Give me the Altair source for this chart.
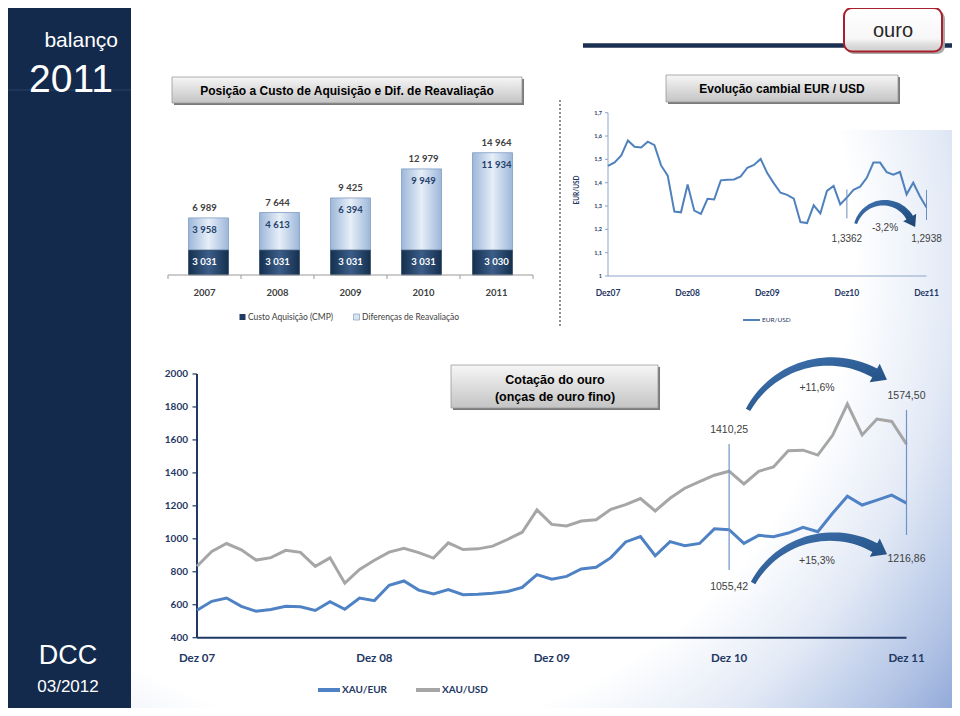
import math
import altair as alt
import pandas as pd

W, H = 944, 700
OFF = 8


def P(v):
    return v - OFF


# ---------------- data ----------------
years = [2007, 2008, 2009, 2010, 2011]
custo_aquisicao = [3031, 3031, 3031, 3031, 3030]
dif_reavaliacao = [3958, 4613, 6394, 9949, 11934]
total_posicao = [6989, 7644, 9425, 12979, 14964]

month_idx = list(range(49))  # Dez07 ... Dez11, monthly
eur_usd = [1.472, 1.487, 1.517, 1.581, 1.554, 1.551, 1.576, 1.561, 1.474, 1.430, 1.276, 1.273,
           1.392, 1.280, 1.266, 1.331, 1.328, 1.410, 1.413, 1.414, 1.427, 1.464, 1.476, 1.502,
           1.441, 1.397, 1.357, 1.348, 1.332, 1.231, 1.227, 1.303, 1.268, 1.365, 1.386, 1.307,
           1.3362, 1.369, 1.383, 1.421, 1.486, 1.486, 1.445, 1.434, 1.446, 1.350, 1.400, 1.342,
           1.2938]
xau_usd = [833.75, 923.25, 971.50, 933.50, 871.00, 885.75, 930.25, 918.00, 833.00, 884.50, 730.75, 814.50,
           869.75, 919.50, 942.50, 916.50, 883.25, 975.50, 934.50, 939.00, 955.50, 995.75, 1040.00, 1175.75,
           1087.50, 1078.50, 1108.25, 1115.50, 1179.25, 1207.50, 1244.00, 1169.00, 1246.00, 1307.00, 1346.75, 1386.00,
           1410.25, 1333.00, 1410.00, 1436.00, 1535.00, 1538.00, 1508.00, 1628.00, 1818.00, 1630.00, 1727.00, 1712.00,
           1574.50]
xau_eur = [566.4, 620.9, 640.5, 590.4, 560.5, 571.2, 590.1, 588.0, 565.3, 618.4, 572.8, 640.0,
           625.0, 718.1, 744.3, 688.7, 665.3, 691.9, 661.2, 664.2, 669.5, 680.0, 704.6, 782.6,
           754.9, 772.2, 816.7, 827.6, 885.7, 981.1, 1013.8, 897.3, 982.6, 957.6, 971.9, 1060.6,
           1055.42, 972.0, 1021.0, 1013.0, 1035.0, 1070.0, 1043.0, 1155.0, 1258.0, 1205.0, 1235.0, 1265.0,
           1216.86]

tick_months = [0, 12, 24, 36, 48]
eur_x_labels = ["Dez07", "Dez08", "Dez09", "Dez10", "Dez11"]
gold_x_labels = ["Dez 07", "Dez 08", "Dez 09", "Dez 10", "Dez 11"]
eur_y_ticks = [1.0, 1.1, 1.2, 1.3, 1.4, 1.5, 1.6, 1.7]
eur_y_labels = ["1", "1,1", "1,2", "1,3", "1,4", "1,5", "1,6", "1,7"]
gold_y_ticks = [400, 600, 800, 1000, 1200, 1400, 1600, 1800, 2000]

NAVY = "#1f3864"
BLUE = "#4f81bd"


def sc(domain, rng):
    return alt.Scale(domain=domain, range=rng, nice=False, zero=False)


XB = sc([2006.5, 2011.5], [P(168), P(533)])
YB = sc([0, 15000], [P(275), P(275) - 122.6])
XE = sc([0, 48], [P(608), P(926.5)])
YE = sc([1.0, 1.7], [P(276), P(112.7)])
XG = sc([0, 48], [P(197), P(906.5)])
YG = sc([400, 2000], [P(637.7), P(374)])

ONE = pd.DataFrame({"k": [0]})


def deco():
    return alt.Chart(ONE)


def vx(v):
    return alt.value(P(v))


def lin(stops, x1=0, y1=0, x2=1, y2=0):
    return alt.LinearGradient(gradient="linear",
                              stops=[alt.GradientStop(color=c, offset=o) for o, c in stops],
                              x1=x1, y1=y1, x2=x2, y2=y2)


def label(text, x, y, size, color="#000000", weight="normal", align="center",
          font="Liberation Sans", baseline="middle", angle=None):
    props = dict(text=text, fontSize=size, color=color, fontWeight=weight,
                 align=align, font=font, baseline=baseline)
    if angle is not None:
        props["angle"] = angle
    return deco().mark_text(**props).encode(x=vx(x), y=vx(y))


def box(x0, y0, x1, y1, fill, stroke=None, sw=0.0, radius=0):
    props = dict(fill=fill)
    if stroke:
        props.update(stroke=stroke, strokeWidth=sw)
    else:
        props.update(strokeWidth=0)
    if radius:
        props["cornerRadius"] = radius
    return deco().mark_rect(**props).encode(x=vx(x0), x2=vx(x1), y=vx(y0), y2=vx(y1))


def seg(x0, y0, x1, y1, color, width, dash=None):
    props = dict(color=color, strokeWidth=width)
    if dash:
        props["strokeDash"] = dash
    return deco().mark_rule(**props).encode(x=vx(x0), x2=vx(x1), y=vx(y0), y2=vx(y1))


def title_box(x0, y0, x1, y1):
    return [box(x0 + 2, y0 + 2, x1 + 2, y1 + 2, "#7a7a7a"),
            box(x0, y0, x1, y1, lin([(0, "#f6f6f6"), (1, "#c4c4c4")], 0, 0, 0, 1), "#9a9a9a", 0.8)]


def arrow_path(r, th0, th1, w0, w1, head_len, head_w, n=30):
    outer, inner = [], []
    for i in range(n + 1):
        th = th0 + (th1 - th0) * i / n
        w = w0 + (w1 - w0) * i / n
        ro, ri = r + w / 2, r - w / 2
        outer.append((ro * math.sin(th), -ro * math.cos(th)))
        inner.append((ri * math.sin(th), -ri * math.cos(th)))
    ux, uy = math.sin(th1), -math.cos(th1)
    tx, ty = math.cos(th1), math.sin(th1)
    bx, by = r * ux, r * uy
    h_out = (bx + ux * head_w / 2, by + uy * head_w / 2)
    h_in = (bx - ux * head_w / 2, by - uy * head_w / 2)
    tip = (bx + tx * head_len, by + ty * head_len)
    pts = outer + [h_out, tip, h_in] + inner[::-1]
    return "M " + " L ".join(f"{x:.2f} {y:.2f}" for x, y in pts) + " Z"


ARROW_FILL = lin([(0, "#4577b5"), (0.55, "#2b5b92"), (1, "#1d4470")], 0, 0, 1, 1)


def arrow(cx, cy, r, th0, th1, w0, w1, hl, hw):
    return deco().mark_point(shape=arrow_path(r, th0, th1, w0, w1, hl, hw), size=4,
                             filled=True, fill=ARROW_FILL, opacity=1,
                             strokeWidth=0).encode(x=vx(cx), y=vx(cy))


layers = []

# ---------------- background ----------------
layers.append(box(131, 130, W + OFF, H + OFF,
                  alt.RadialGradient(gradient="radial",
                                     stops=[alt.GradientStop(color="#ffffff", offset=0),
                                            alt.GradientStop(color="#ffffff", offset=0.58),
                                            alt.GradientStop(color="#e3eaf6", offset=0.70),
                                            alt.GradientStop(color="#afc1e4", offset=0.83),
                                            alt.GradientStop(color="#7491cc", offset=0.96)],
                                     x1=0.3, y1=0.3, r1=0, x2=0.3, y2=0.3, r2=1.0)))

# ---------------- sidebar ----------------
layers.append(box(OFF, OFF, 131, 710, "#132a4c"))
layers.append(seg(8, 90, 131, 90, "#2c4368", 1))
layers.append(label("balanço", 118, 47, 21, "#ffffff", align="right", baseline="alphabetic"))
layers.append(label("2011", 71, 92, 39, "#ffffff", baseline="alphabetic"))
layers.append(label("DCC", 68, 664, 27, "#ffffff", baseline="alphabetic"))
layers.append(label("03/2012", 68, 692, 17, "#ffffff", baseline="alphabetic"))

# ---------------- header line + tab ----------------
layers.append(seg(583, 45.5, W + OFF, 45.5, "#1b3050", 4.5))
layers.append(box(846, 11, 945, 54, "#a9a9a9", radius=8))
layers.append(box(844, 8, 942, 51.5, lin([(0, "#ffffff"), (0.7, "#f7f7f7"), (0.85, "#dcdcdc"), (1, "#cfcfcf")], 0, 0, 0, 1),
                  "#a8202c", 2, radius=8))
layers.append(label("ouro", 893, 37, 20, "#262626", baseline="alphabetic"))

# ---------------- title boxes ----------------
layers += title_box(172, 77, 522, 103)
layers.append(label("Posição a Custo de Aquisição e Dif. de Reavaliação", 347, 90.5, 12, "#000000", "bold"))
layers += title_box(666, 75, 898, 102)
layers.append(label("Evolução cambial EUR / USD", 782, 89, 12, "#000000", "bold"))
layers += title_box(451, 365, 658, 408)
layers.append(label("Cotação do ouro", 555, 380, 12.5, "#000000", "bold"))
layers.append(label("(onças de ouro fino)", 555, 396.5, 12.5, "#000000", "bold"))

# dotted separator
layers.append(seg(560, 100, 560, 326, "#555555", 1.3, [2, 2]))

# ---------------- bar chart ----------------
fmt = lambda v: f"{v:,}".replace(",", " ")
bars = pd.DataFrame({"ano": years, "custo": custo_aquisicao, "dif": dif_reavaliacao,
                     "total": total_posicao})
bars["base"] = 0
bars["custo_lbl"] = [fmt(v) for v in custo_aquisicao]
bars["dif_lbl"] = [fmt(v) for v in dif_reavaliacao]
bars["total_lbl"] = [fmt(v) for v in total_posicao]
bars["ano_lbl"] = [str(y) for y in years]

GRAD_DARK = lin([(0, "#15304f"), (0.5, "#3b5d88"), (1, "#15304f")])
GRAD_LIGHT = lin([(0, "#9db7d9"), (0.5, "#e6eef8"), (1, "#9db7d9")])

bx = alt.X("ano:Q", scale=XB, axis=None)
layers.append(alt.Chart(bars).mark_bar(size=40, fill=GRAD_LIGHT, stroke="#7f9cc4", strokeWidth=0.8).encode(
    x=bx, y=alt.Y("custo:Q", scale=YB, axis=None), y2="total:Q"))
layers.append(alt.Chart(bars).mark_bar(size=40, fill=GRAD_DARK, stroke="#1d3556", strokeWidth=0.6).encode(
    x=bx, y=alt.Y("base:Q", scale=YB, axis=None), y2="custo:Q"))
layers.append(alt.Chart(bars).mark_text(font="Lato", fontSize=9.5, fontWeight="bold", color="#ffffff",
                                        baseline="middle", dy=12).encode(
    x=bx, y=alt.Y("custo:Q", scale=YB, axis=None), text="custo_lbl:N"))
layers.append(alt.Chart(bars).mark_text(font="Lato", fontSize=9.5, fontWeight="bold", color="#24406a",
                                        baseline="middle", dy=12).encode(
    x=bx, y=alt.Y("total:Q", scale=YB, axis=None), text="dif_lbl:N"))
layers.append(alt.Chart(bars).mark_text(font="Lato", fontSize=9.5, fontWeight="bold", color="#404040",
                                        baseline="middle", dy=-10).encode(
    x=bx, y=alt.Y("total:Q", scale=YB, axis=None), text="total_lbl:N"))
layers.append(alt.Chart(bars).mark_text(font="Lato", fontSize=9.5, fontWeight="bold", color="#404040",
                                        baseline="middle").encode(
    x=bx, y=vx(293), text="ano_lbl:N"))
bar_axis = pd.DataFrame({"a0": [2006.5], "a1": [2011.5], "v": [0]})
layers.append(alt.Chart(bar_axis).mark_rule(color="#9a9a9a", strokeWidth=1).encode(
    x=alt.X("a0:Q", scale=XB, axis=None), x2="a1:Q", y=alt.Y("v:Q", scale=YB, axis=None)))
bar_ticks = pd.DataFrame({"b": [2006.5, 2007.5, 2008.5, 2009.5, 2010.5, 2011.5]})
layers.append(alt.Chart(bar_ticks).mark_rule(color="#9a9a9a", strokeWidth=1).encode(
    x=alt.X("b:Q", scale=XB, axis=None), y=vx(275), y2=vx(279)))
# legend
layers.append(box(239.5, 314, 245.5, 320, "#1f3b63"))
layers.append(label("Custo Aquisição (CMP)", 248, 317, 8.5, "#404040", font="Lato", align="left"))
layers.append(box(353.5, 314, 359.5, 320, "#dbe5f1", "#8ea8c8", 0.8))
layers.append(label("Diferenças de Reavaliação", 362, 317, 8.5, "#404040", font="Lato", align="left"))

# ---------------- EUR/USD chart ----------------
eur = pd.DataFrame({"t": month_idx, "v": eur_usd})
ex = alt.X("t:Q", scale=XE, axis=None)
ey = alt.Y("v:Q", scale=YE, axis=None)
eur_ax_y = pd.DataFrame({"t": [0], "v": [1.0], "v1": [1.7]})
eur_ax_x = pd.DataFrame({"t": [0], "t1": [48], "v": [1.0]})
layers.append(alt.Chart(eur_ax_y).mark_rule(color="#8ea5c8", strokeWidth=1).encode(x=ex, y=ey, y2="v1:Q"))
layers.append(alt.Chart(eur_ax_x).mark_rule(color="#8ea5c8", strokeWidth=1).encode(x=ex, x2="t1:Q", y=ey))
eur_ticks = pd.DataFrame({"v": eur_y_ticks, "lbl": eur_y_labels})
layers.append(alt.Chart(eur_ticks).mark_rule(color="#8ea5c8", strokeWidth=1).encode(
    x=vx(605), x2=vx(608), y=ey))
layers.append(alt.Chart(eur_ticks).mark_text(font="Lato", fontSize=5.5, fontWeight="bold", color=NAVY,
                                             align="right", baseline="middle").encode(
    x=vx(602), y=ey, text="lbl:N"))
eur_xl = pd.DataFrame({"t": tick_months, "lbl": eur_x_labels})
layers.append(alt.Chart(eur_xl).mark_text(font="Lato", fontSize=8.5, fontWeight="bold", color=NAVY,
                                          baseline="middle").encode(x=ex, y=vx(293), text="lbl:N"))
layers.append(label("EUR/USD", 577, 190, 6.5, NAVY, "bold", font="Lato", angle=270))
layers.append(alt.Chart(eur).mark_line(color=BLUE, strokeWidth=2).encode(x=ex, y=ey))
eur_ann = pd.DataFrame({"t": [36, 48], "v": [1.247, 1.240], "v1": [1.371, 1.369],
                        "lbl": ["1,3362", "1,2938"]})
layers.append(alt.Chart(eur_ann).mark_rule(color="#6a8cc0", strokeWidth=1).encode(x=ex, y=ey, y2="v1:Q"))
layers.append(alt.Chart(eur_ann).mark_text(fontSize=10, color="#404040", baseline="middle").encode(
    x=ex, y=vx(239), text="lbl:N"))
layers.append(label("-3,2%", 885, 228, 10, "#404040"))
layers.append(arrow(884, 232.3, 29.6, 5.01, 2 * math.pi + 1.05, 3, 7.5, 11, 15))
# legend
layers.append(seg(743, 320, 760, 320, BLUE, 2))
layers.append(label("EUR/USD", 762, 320, 6.5, NAVY, font="Lato", align="left"))

# ---------------- gold chart ----------------
gx = alt.X("t:Q", scale=XG, axis=None)
gy = alt.Y("v:Q", scale=YG, axis=None)
g_usd = pd.DataFrame({"t": month_idx, "v": xau_usd})
g_eur = pd.DataFrame({"t": month_idx, "v": xau_eur})
g_ax_y = pd.DataFrame({"t": [0], "v": [400], "v1": [2000]})
g_ax_x = pd.DataFrame({"t": [0], "t1": [48], "v": [400]})
layers.append(alt.Chart(g_ax_y).mark_rule(color=NAVY, strokeWidth=2).encode(x=gx, y=gy, y2="v1:Q"))
layers.append(alt.Chart(g_ax_x).mark_rule(color=NAVY, strokeWidth=2).encode(x=gx, x2="t1:Q", y=gy))
g_ticks = pd.DataFrame({"v": gold_y_ticks, "lbl": [str(v) for v in gold_y_ticks]})
layers.append(alt.Chart(g_ticks).mark_rule(color=NAVY, strokeWidth=1.2).encode(x=vx(192.5), x2=vx(197), y=gy))
layers.append(alt.Chart(g_ticks).mark_text(font="Lato", fontSize=10, fontWeight="bold", color=NAVY,
                                           align="right", baseline="middle").encode(x=vx(188), y=gy, text="lbl:N"))
g_xl = pd.DataFrame({"t": tick_months, "lbl": gold_x_labels})
layers.append(alt.Chart(g_xl).mark_text(font="Lato", fontSize=11.5, fontWeight="bold", color=NAVY,
                                        baseline="middle").encode(x=gx, y=vx(659), text="lbl:N"))
layers.append(alt.Chart(g_usd).mark_line(color="#a6a6a6", strokeWidth=3).encode(x=gx, y=gy))
layers.append(alt.Chart(g_eur).mark_line(color="#4f82c4", strokeWidth=3).encode(x=gx, y=gy))
g_ann = pd.DataFrame({"t": [36, 48], "v": [811, 1023], "v1": [1575, 1782]})
layers.append(alt.Chart(g_ann).mark_rule(color="#6f93c8", strokeWidth=1.2).encode(x=gx, y=gy, y2="v1:Q"))
g_lbl = pd.DataFrame({"t": [36, 48, 36, 48], "y": [P(430), P(396), P(587), P(559)],
                      "lbl": ["1410,25", "1574,50", "1055,42", "1216,86"]})
layers.append(alt.Chart(g_lbl).mark_text(fontSize=10.5, color="#404040", baseline="middle").encode(
    x=gx, y=alt.Y("y:Q", scale=None, axis=None), text="lbl:N"))
layers.append(label("+11,6%", 817, 388, 10.5, "#404040"))
layers.append(label("+15,3%", 817, 561, 10.5, "#404040"))
layers.append(arrow(829.9, 454.9, 93.4, 5.215, 2 * math.pi + 0.50, 5, 10, 14, 21))
layers.append(arrow(831.7, 626.4, 89.8, 5.217, 2 * math.pi + 0.50, 5, 10, 14, 21))
# legend
layers.append(seg(318, 690, 340, 690, "#4f82c4", 4))
layers.append(label("XAU/EUR", 342, 690, 10, NAVY, "bold", font="Lato", align="left"))
layers.append(seg(416, 690, 440, 690, "#a6a6a6", 4))
layers.append(label("XAU/USD", 442, 690, 10, NAVY, "bold", font="Lato", align="left"))

chart = alt.layer(*layers).resolve_scale(x="independent", y="independent").properties(
    width=W, height=H, autosize=alt.AutoSizeParams(type="none"), padding=0
).configure_view(strokeWidth=0)

chart.save("out.html", embed_options={"renderer": "svg", "actions": False})
